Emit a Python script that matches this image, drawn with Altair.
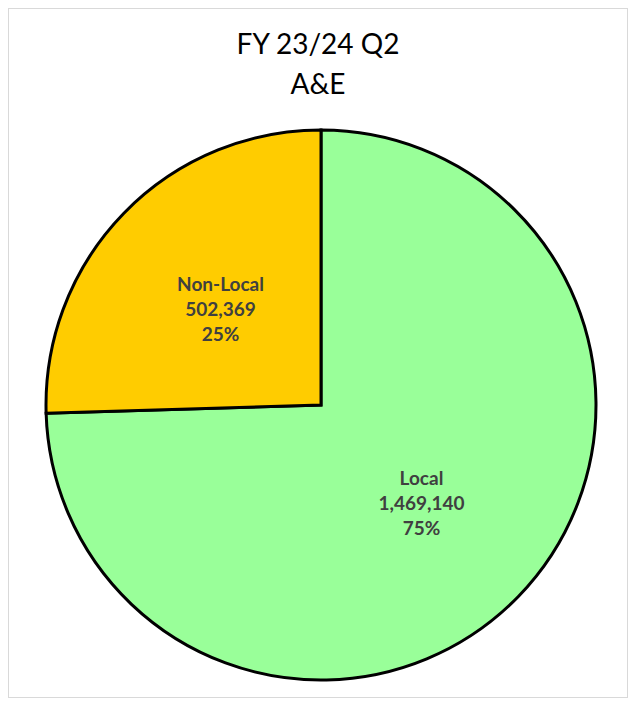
import altair as alt
import pandas as pd

categories = ["Local", "Non-Local"]
values = [1469140, 502369]
colors = ["#99FF99", "#FFCC00"]

total = sum(values)
labels = [
    f"{c}\n{v:,}\n{round(v / total * 100)}%" for c, v in zip(categories, values)
]
df = pd.DataFrame({
    "category": categories,
    "value": values,
    "label": labels,
    "order": list(range(len(categories))),
})

cx, cy, r = 313, 397, 275

base = alt.Chart(df).encode(
    theta=alt.Theta("value:Q", stack=True),
    order=alt.Order("order:Q"),
    x=alt.value(cx),
    y=alt.value(cy),
)

pie = base.mark_arc(radius=r, stroke="black", strokeWidth=3).encode(
    color=alt.Color("category:N",
                    scale=alt.Scale(domain=categories, range=colors),
                    legend=None)
)

text = base.mark_text(
    radius=140, font="Lato", fontSize=19, fontWeight="bold",
    color="#404040", lineBreak="\n", lineHeight=25, baseline="middle", dy=-23,
).encode(text="label:N")

chart = alt.layer(pie, text).properties(
    width=620, height=690,
    autosize=alt.AutoSizeParams(type="none"),
    padding=0,
    title=alt.TitleParams(
        ["FY 23/24 Q2", "A&E"], font="Lato", fontSize=28, fontWeight="normal",
        color="black", anchor="middle", offset=-68, lineHeight=40,
        baseline="top", dy=24,
    ),
).configure_view(stroke="#d9d9d9", strokeWidth=2)

chart.save("out.html", embed_options={"renderer": "svg", "actions": False})
